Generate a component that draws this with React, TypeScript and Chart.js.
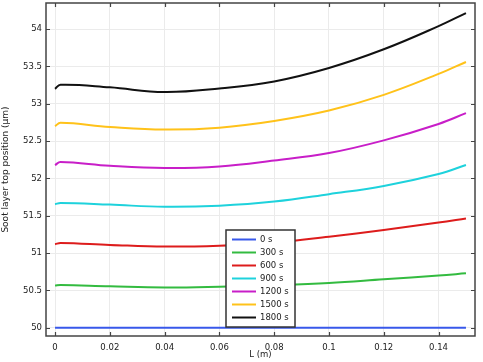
import React, { useEffect, useRef } from 'react';
import { Chart, registerables } from 'chart.js';

Chart.register(...registerables);

const FONT = "'DejaVu Sans', sans-serif";

const L = [0, 0.002, 0.02, 0.04, 0.06, 0.08, 0.1, 0.12, 0.14, 0.15];
const s0 = [50, 50, 50, 50, 50, 50, 50, 50, 50, 50];
const s300 = [50.565, 50.572, 50.555, 50.54, 50.55, 50.57, 50.6, 50.65, 50.7, 50.73];
const s600 = [51.12, 51.135, 51.11, 51.088, 51.1, 51.14, 51.22, 51.31, 51.41, 51.465];
const s900 = [51.655, 51.672, 51.65, 51.62, 51.635, 51.69, 51.79, 51.9, 52.06, 52.18];
const s1200 = [52.18, 52.22, 52.17, 52.14, 52.16, 52.24, 52.34, 52.51, 52.73, 52.875];
const s1500 = [52.7, 52.745, 52.69, 52.655, 52.68, 52.77, 52.91, 53.12, 53.4, 53.56];
const s1800 = [53.2, 53.255, 53.22, 53.157, 53.205, 53.3, 53.48, 53.73, 54.04, 54.215];

const seriesLabels = ['0 s', '300 s', '600 s', '900 s', '1200 s', '1500 s', '1800 s'];
const seriesValues = [s0, s300, s600, s900, s1200, s1500, s1800];
const seriesColors = ['#3858ea', '#33bb40', '#dd1c1c', '#1ed2dc', '#c81ec8', '#ffc21a', '#111111'];

const xTicks = [0, 0.02, 0.04, 0.06, 0.08, 0.1, 0.12, 0.14];
const yTicks = [50, 50.5, 51, 51.5, 52, 52.5, 53, 53.5, 54];

const framePlugin = {
  id: 'frameTicksLegend',
  afterDraw(chart: any) {
    const ctx = chart.ctx;
    const a = chart.chartArea;
    const xs = chart.scales.x;
    const ys = chart.scales.y;
    ctx.save();
    ctx.strokeStyle = '#444';
    ctx.lineWidth = 1.5;
    ctx.strokeRect(a.left, a.top, a.right - a.left, a.bottom - a.top);
    ctx.lineWidth = 1.2;
    ctx.beginPath();
    const tl = 4;
    xTicks.forEach((v) => {
      const px = Math.round(xs.getPixelForValue(v)) + 0.5;
      ctx.moveTo(px, a.bottom);
      ctx.lineTo(px, a.bottom - tl);
      ctx.moveTo(px, a.top);
      ctx.lineTo(px, a.top + tl);
    });
    yTicks.forEach((v) => {
      const py = Math.round(ys.getPixelForValue(v)) + 0.5;
      ctx.moveTo(a.left, py);
      ctx.lineTo(a.left + tl, py);
      ctx.moveTo(a.right, py);
      ctx.lineTo(a.right - tl, py);
    });
    ctx.stroke();

    // legend
    const bx = 226, by = 230, bw = 69, bh = 97;
    ctx.fillStyle = '#ffffff';
    ctx.fillRect(bx, by, bw, bh);
    ctx.strokeStyle = '#333';
    ctx.lineWidth = 1.5;
    ctx.strokeRect(bx, by, bw, bh);
    ctx.font = `8.5px ${FONT}`;
    ctx.textBaseline = 'middle';
    ctx.textAlign = 'left';
    chart.data.datasets.forEach((ds: any, i: number) => {
      const y = by + 9.5 + i * 13;
      ctx.strokeStyle = ds.borderColor;
      ctx.lineWidth = 2;
      ctx.beginPath();
      ctx.moveTo(bx + 6, y);
      ctx.lineTo(bx + 30, y);
      ctx.stroke();
      ctx.fillStyle = '#222';
      ctx.fillText(ds.label, bx + 34, y);
    });
    ctx.restore();
  },
};

export default function App() {
  const ref = useRef<HTMLCanvasElement | null>(null);
  useEffect(() => {
    document.body.style.margin = '0';
    const canvas = ref.current!;
    const chart = new Chart(canvas, {
      type: 'line',
      data: {
        datasets: seriesValues.map((vals, i) => ({
          label: seriesLabels[i],
          data: L.map((x, j) => ({ x, y: vals[j] })),
          borderColor: seriesColors[i],
          backgroundColor: seriesColors[i],
          borderWidth: 2,
          pointRadius: 0,
          tension: 0.4,
          fill: false,
        })),
      },
      options: {
        responsive: false,
        animation: false,
        layout: { padding: { top: 3, right: 8, left: 0, bottom: 0 } },
        plugins: { legend: { display: false }, tooltip: { enabled: false } },
        scales: {
          x: {
            type: 'linear',
            min: -0.0033,
            max: 0.1533,
            afterBuildTicks: (s: any) => {
              s.ticks = xTicks.map((v) => ({ value: v }));
            },
            afterFit: (s: any) => {
              s.height = 26;
              s.paddingLeft = 0;
              s.paddingRight = 0;
            },
            ticks: {
              font: { family: FONT, size: 8.5 },
              color: '#222',
              padding: 7,
              maxRotation: 0,
              callback: (v: any) => String(Number(v)),
            },
            grid: { color: '#ebebeb', drawTicks: false },
            border: { display: false },
            title: {
              display: true,
              text: 'L (m)',
              font: { family: FONT, size: 8.5 },
              color: '#222',
              padding: { top: 0, bottom: 2 },
            },
          },
          y: {
            type: 'linear',
            min: 49.89,
            max: 54.35,
            afterBuildTicks: (s: any) => {
              s.ticks = yTicks.map((v) => ({ value: v }));
            },
            afterFit: (s: any) => {
              s.width = 46;
              s.paddingTop = 0;
              s.paddingBottom = 0;
            },
            ticks: {
              font: { family: FONT, size: 8.5 },
              color: '#222',
              padding: 4,
              callback: (v: any) => String(Number(v)),
            },
            grid: { color: '#ebebeb', drawTicks: false },
            border: { display: false },
            title: {
              display: true,
              text: 'Soot layer top position (µm)',
              font: { family: FONT, size: 9 },
              color: '#222',
              padding: { top: 0, bottom: 1 },
            },
          },
        },
      },
      plugins: [framePlugin],
    });
    return () => chart.destroy();
  }, []);
  return <canvas ref={ref} width={483} height={362} style={{ display: 'block' }} />;
}
